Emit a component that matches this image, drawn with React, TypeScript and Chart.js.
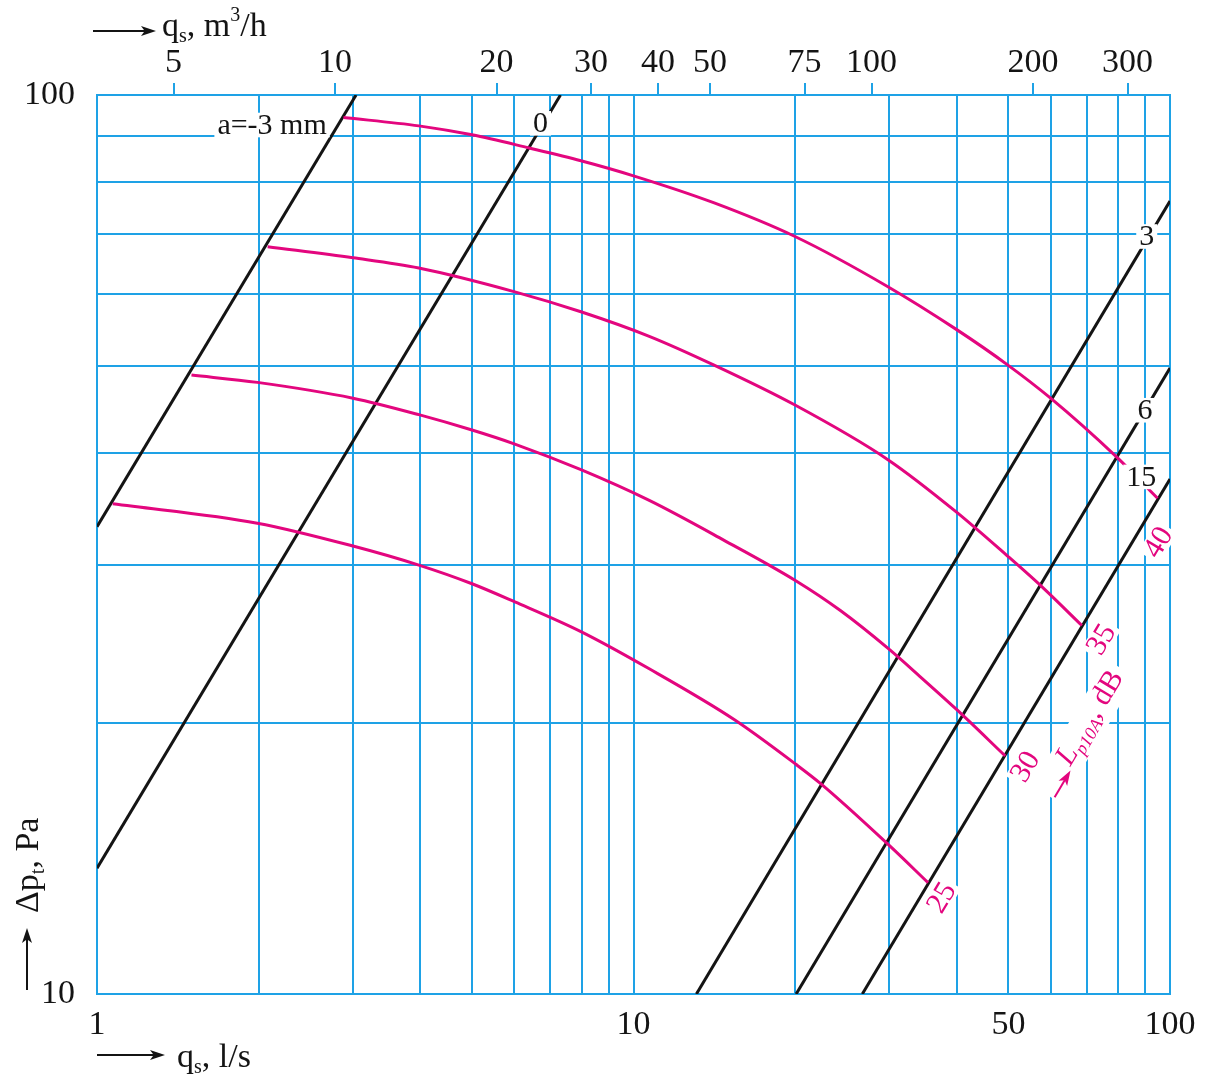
import React, { useEffect, useRef } from 'react';
import { Chart, registerables } from 'chart.js';

Chart.register(...registerables);

const FONT = '"Liberation Serif", "Times New Roman", Times, serif';
const GRID_BLUE = '#1ea2e6';
const PINK = '#e3067e';
const INK = '#141414';

// ---- axes (q in l/s, dp in Pa) ----
const X_GRID = [1, 2, 3, 4, 5, 6, 7, 8, 9, 10, 20, 30, 40, 50, 60, 70, 80, 90, 100];
const X_LABELS = [1, 10, 50, 100];
const Y_GRID = [10, 20, 30, 40, 50, 60, 70, 80, 90, 100];
const Y_LABELS = [10, 100];
const TOP_TICKS_M3H = [5, 10, 20, 30, 40, 50, 75, 100, 200, 300];
const M3H_PER_LPS = 3.6;

// ---- system lines, setting a (mm): [q, dp] end points ----
const LINE_A_M3 = [[1, 33.1], [3.04, 100]];
const LINE_A_0 = [[1, 13.8], [7.31, 100]];
const LINE_A_3 = [[13.1, 10], [100, 76.2]];
const LINE_A_6 = [[20.1, 10], [100, 49.7]];
const LINE_A_15 = [[26.7, 10], [100, 37.4]];

// ---- sound level curves Lp10A (dB) ----
const L40_Q = [2.88, 3.98, 5.0, 6.39, 7.98, 10.0, 14.1, 20.0, 29.8, 39.9, 49.8, 59.9, 79.4, 94.8];
const L40_P = [94.4, 92.4, 90.3, 87.3, 84.5, 81.3, 75.9, 69.6, 61.2, 54.9, 50.1, 46.0, 39.6, 35.6];
const L35_Q = [2.08, 3.0, 3.98, 6.01, 7.98, 10.7, 14.1, 20.0, 29.8, 39.9, 49.8, 58.0, 68.5];
const L35_P = [67.8, 65.9, 64.2, 60.4, 57.4, 53.9, 50.1, 45.2, 39.3, 34.4, 30.7, 28.3, 25.7];
const L30_Q = [1.5, 1.99, 3.0, 3.98, 5.0, 6.01, 7.98, 10.7, 14.7, 20.1, 24.3, 29.9, 34.2, 40.1, 49.3];
const L30_P = [48.8, 47.9, 46.0, 44.1, 42.4, 40.9, 38.3, 35.4, 32.0, 28.8, 26.7, 24.2, 22.55, 20.7, 18.4];
const L25_Q = [1.07, 1.99, 3.0, 3.98, 5.0, 6.01, 7.98, 10.7, 15.4, 20.1, 22.3, 29.9, 35.4];
const L25_P = [35.1, 33.4, 31.5, 30.0, 28.6, 27.3, 25.3, 23.0, 20.2, 18.0, 17.15, 14.65, 13.3];

// ---- labels anchored in data coordinates ----
const A_LABELS: [string, number, number][] = [
  ['a=-3 mm', 2.12, 92.6],
  ['0', 6.71, 93.0],
  ['3', 90.5, 69.6],
  ['6', 89.8, 44.6],
  ['15', 88.4, 37.6],
];
const DB_LABELS: [string, number, number][] = [
  ['25', 37.5, 12.8],
  ['30', 53.7, 17.9],
  ['35', 74.4, 24.8],
  ['40', 95.0, 31.8],
];
const LP_LABEL_ANCHOR = [60.5, 16.6];

const pairs = (l: number[][]) => l.map(([x, y]) => ({ x, y }));
const zipPts = (q: number[], p: number[]) => q.map((v, i) => ({ x: v, y: p[i] }));

type Run = { t: string; size: number; italic?: boolean; dy?: number };

function runsWidth(ctx: CanvasRenderingContext2D, runs: Run[]) {
  let w = 0;
  for (const r of runs) {
    ctx.font = `${r.italic ? 'italic ' : ''}${r.size}px ${FONT}`;
    w += ctx.measureText(r.t).width;
  }
  return w;
}

function drawRuns(ctx: CanvasRenderingContext2D, runs: Run[], x: number, y: number, color: string) {
  ctx.save();
  ctx.fillStyle = color;
  ctx.textBaseline = 'alphabetic';
  ctx.textAlign = 'left';
  let cx = x;
  for (const r of runs) {
    ctx.font = `${r.italic ? 'italic ' : ''}${r.size}px ${FONT}`;
    ctx.fillText(r.t, cx, y + (r.dy || 0));
    cx += ctx.measureText(r.t).width;
  }
  ctx.restore();
  return cx - x;
}

function arrow(ctx: CanvasRenderingContext2D, x0: number, y0: number, x1: number, y1: number, color: string) {
  const a = Math.atan2(y1 - y0, x1 - x0);
  const head = 15;
  const hw = 5;
  ctx.save();
  ctx.strokeStyle = color;
  ctx.fillStyle = color;
  ctx.lineWidth = 2;
  ctx.beginPath();
  ctx.moveTo(x0, y0);
  ctx.lineTo(x1 - head * 0.7 * Math.cos(a), y1 - head * 0.7 * Math.sin(a));
  ctx.stroke();
  ctx.beginPath();
  ctx.moveTo(x1, y1);
  ctx.lineTo(x1 - head * Math.cos(a) + hw * Math.sin(a), y1 - head * Math.sin(a) - hw * Math.cos(a));
  ctx.lineTo(x1 - head * 0.75 * Math.cos(a), y1 - head * 0.75 * Math.sin(a));
  ctx.lineTo(x1 - head * Math.cos(a) - hw * Math.sin(a), y1 - head * Math.sin(a) + hw * Math.cos(a));
  ctx.closePath();
  ctx.fill();
  ctx.restore();
}

function boxedText(
  ctx: CanvasRenderingContext2D,
  text: string,
  x: number,
  y: number,
  size: number,
  color: string,
  angle = 0
) {
  ctx.save();
  ctx.translate(x, y);
  ctx.rotate(angle);
  ctx.font = `${size}px ${FONT}`;
  const w = ctx.measureText(text).width;
  const h = size * 0.82;
  ctx.fillStyle = '#ffffff';
  ctx.fillRect(-w / 2 - 3, -h / 2, w + 6, h);
  ctx.fillStyle = color;
  ctx.textAlign = 'center';
  ctx.textBaseline = 'middle';
  ctx.fillText(text, 0, 1);
  ctx.restore();
}

const annotations = {
  id: 'annotations',
  afterDatasetsDraw(chart: any) {
    const ctx: CanvasRenderingContext2D = chart.ctx;
    const xs = chart.scales.x;
    const ys = chart.scales.y;
    const px = (v: number) => xs.getPixelForValue(v);
    const py = (v: number) => ys.getPixelForValue(v);
    // direction of a line of slope 1 in log-log space
    const ang = Math.atan2(py(100) - py(10), px(10) - px(1));

    for (const [t, x, y] of A_LABELS) boxedText(ctx, t, px(x), py(y), 30, INK);
    for (const [t, x, y] of DB_LABELS) boxedText(ctx, t, px(x), py(y), 30, PINK, ang);

    // L_p10A, dB label with arrow
    const runs: Run[] = [
      { t: 'L', size: 30, italic: true },
      { t: 'p10A', size: 18, italic: true, dy: 6 },
      { t: ', dB', size: 30 },
    ];
    ctx.save();
    ctx.translate(px(LP_LABEL_ANCHOR[0]), py(LP_LABEL_ANCHOR[1]));
    ctx.rotate(ang);
    const tw = runsWidth(ctx, runs);
    ctx.fillStyle = '#ffffff';
    ctx.fillRect(-2, -24, 36 + tw + 6, 35);
    arrow(ctx, 0, 2, 31, 2, PINK);
    drawRuns(ctx, runs, 34, 0, PINK);
    ctx.restore();
  },
  afterDraw(chart: any) {
    const ctx: CanvasRenderingContext2D = chart.ctx;
    const ca = chart.chartArea;
    // top axis title
    arrow(ctx, ca.left - 4, 31, ca.left + 59, 31, INK);
    drawRuns(
      ctx,
      [
        { t: 'q', size: 34 },
        { t: 's', size: 20, dy: 6 },
        { t: ', m', size: 34 },
        { t: '3', size: 20, dy: -15 },
        { t: '/h', size: 34 },
      ],
      ca.left + 65,
      36,
      INK
    );
    // bottom axis title
    arrow(ctx, ca.left, ca.bottom + 61, ca.left + 68, ca.bottom + 61, INK);
    drawRuns(
      ctx,
      [
        { t: 'q', size: 34 },
        { t: 's', size: 20, dy: 6 },
        { t: ', l/s', size: 34 },
      ],
      ca.left + 80,
      ca.bottom + 73,
      INK
    );
    // left axis title (rotated)
    arrow(ctx, 27, ca.bottom - 4, 27, ca.bottom - 66, INK);
    ctx.save();
    ctx.translate(38, ca.bottom - 81);
    ctx.rotate(-Math.PI / 2);
    drawRuns(
      ctx,
      [
        { t: 'Δp', size: 34 },
        { t: 't', size: 20, dy: 6 },
        { t: ', Pa', size: 34 },
      ],
      0,
      0,
      INK
    );
    ctx.restore();
  },
};

export default function App() {
  const ref = useRef<HTMLCanvasElement | null>(null);

  useEffect(() => {
    if (!ref.current) return;
    const black = (d: number[][]) => ({
      data: pairs(d),
      borderColor: INK,
      borderWidth: 3,
      pointRadius: 0,
      showLine: true,
      fill: false,
    });
    const pink = (q: number[], p: number[]) => ({
      data: zipPts(q, p),
      borderColor: PINK,
      borderWidth: 3,
      pointRadius: 0,
      showLine: true,
      fill: false,
      cubicInterpolationMode: 'monotone' as const,
    });
    const tickFont = { family: FONT, size: 34 };

    const chart = new Chart(ref.current, {
      type: 'scatter',
      data: {
        datasets: [
          pink(L40_Q, L40_P),
          pink(L35_Q, L35_P),
          pink(L30_Q, L30_P),
          pink(L25_Q, L25_P),
          black(LINE_A_M3),
          black(LINE_A_0),
          black(LINE_A_3),
          black(LINE_A_6),
          black(LINE_A_15),
        ] as any,
      },
      options: {
        animation: false,
        responsive: false,
        events: [],
        layout: { padding: { left: 0, right: 40, top: 0, bottom: 0 } },
        plugins: { legend: { display: false }, tooltip: { enabled: false } },
        scales: {
          x: {
            type: 'logarithmic',
            position: 'bottom',
            min: 1,
            max: 100,
            afterBuildTicks: (s: any) => {
              s.ticks = X_GRID.map((v) => ({ value: v }));
            },
            afterFit: (s: any) => {
              s.height = 86;
            },
            ticks: {
              autoSkip: false,
              maxRotation: 0,
              padding: 11,
              color: INK,
              font: tickFont,
              callback: (v: any) => (X_LABELS.includes(Number(v)) ? String(v) : ''),
            },
            grid: { color: GRID_BLUE, lineWidth: 2, drawTicks: false },
            border: { color: GRID_BLUE, width: 2 },
          },
          x2: {
            type: 'logarithmic',
            axis: 'x',
            position: 'top',
            min: 1 * M3H_PER_LPS,
            max: 100 * M3H_PER_LPS,
            afterBuildTicks: (s: any) => {
              s.ticks = TOP_TICKS_M3H.map((v) => ({ value: v }));
            },
            afterFit: (s: any) => {
              s.height = 95;
            },
            ticks: {
              autoSkip: false,
              maxRotation: 0,
              padding: 0,
              color: INK,
              font: tickFont,
              callback: (v: any) => String(v),
            },
            grid: {
              color: GRID_BLUE,
              lineWidth: 2,
              drawOnChartArea: false,
              drawTicks: true,
              tickLength: 12,
              tickColor: GRID_BLUE,
              tickWidth: 2,
            },
            border: { color: GRID_BLUE, width: 2 },
          },
          y: {
            type: 'logarithmic',
            min: 10,
            max: 100,
            afterBuildTicks: (s: any) => {
              s.ticks = Y_GRID.map((v) => ({ value: v }));
            },
            afterFit: (s: any) => {
              s.width = 97;
            },
            ticks: {
              autoSkip: false,
              padding: 22,
              color: INK,
              font: tickFont,
              callback: (v: any) => (Y_LABELS.includes(Number(v)) ? String(v) : ''),
            },
            grid: { color: GRID_BLUE, lineWidth: 2, drawTicks: false },
            border: { color: GRID_BLUE, width: 2 },
          },
        },
      } as any,
      plugins: [annotations],
    });
    return () => chart.destroy();
  }, []);

  return (
    <div style={{ position: 'fixed', left: 0, top: 0, width: 1210, height: 1080, background: '#fff' }}>
      <canvas ref={ref} width={1210} height={1080} style={{ display: 'block' }} />
    </div>
  );
}
